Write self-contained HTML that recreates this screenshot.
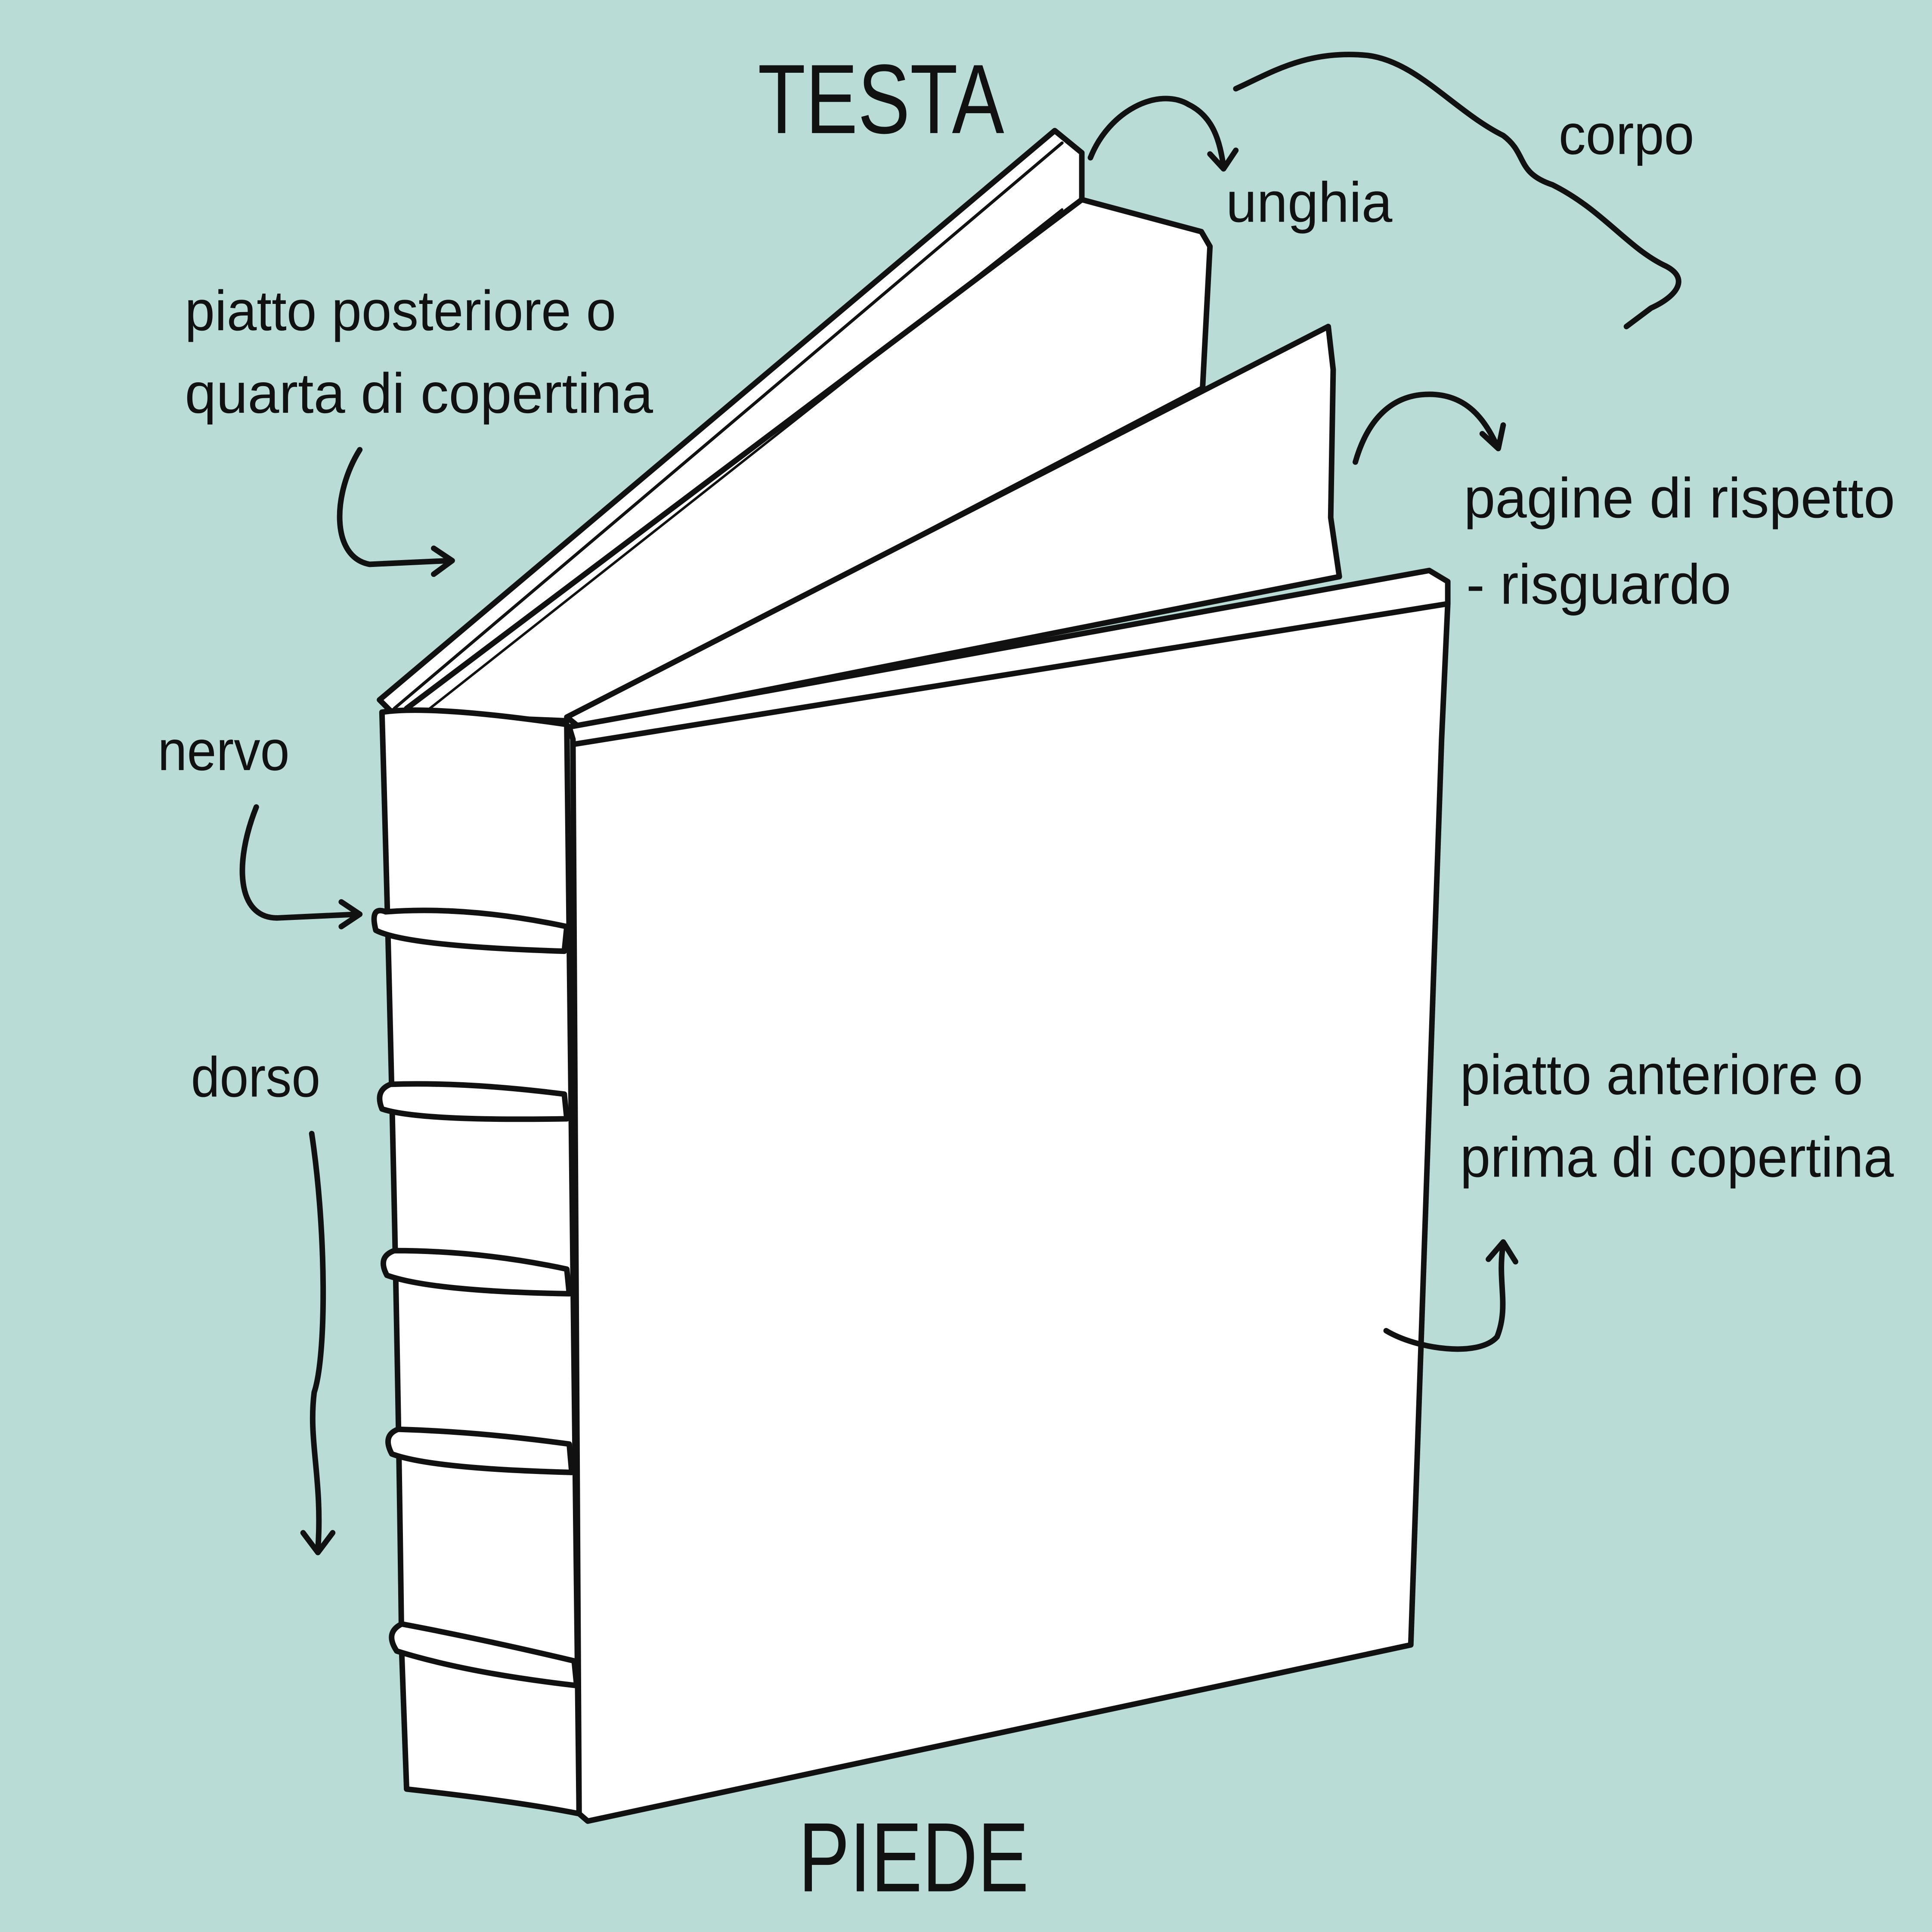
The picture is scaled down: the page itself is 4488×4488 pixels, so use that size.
<!DOCTYPE html>
<html><head><meta charset="utf-8"><style>
html,body{margin:0;padding:0;background:#b9ddd6;}
svg{display:block;width:4488px;height:4488px;}
text{font-family:"Liberation Sans",sans-serif;fill:#111;}
</style></head><body>
<svg viewBox="0 0 1568 1568" xmlns="http://www.w3.org/2000/svg">
<rect width="1568" height="1568" fill="#b9ddd6"/>
<defs>
<marker id="ah" viewBox="0 0 20 20" refX="10" refY="10" markerWidth="7" markerHeight="7" orient="auto" markerUnits="userSpaceOnUse">
</marker>
</defs>
<g fill="#fff" stroke="#111" stroke-width="4.5" stroke-linejoin="round" stroke-linecap="round">
<!-- back cover -->
<path d="M308,568 L856,106 L878,124 L878,162 L330,590 Z"/>
<path d="M320,575 L862,116" fill="none" stroke-width="2.5"/>
<path d="M330,578 L866,175" fill="none" stroke-width="2"/>
<!-- text block -->
<path d="M330,575 L878,162 L975,188 L982,200 L976,315 L460,585 L340,580 Z"/>
<path d="M345,578 L862,170" fill="none" stroke-width="2"/>
<!-- endpaper -->
<path d="M460,582 L1078,265 L1082,300 L1080,420 L1087,468 L470,590 Z"/>
<!-- spine -->
<path d="M310,578 Q350,572 460,588 L470,1472 Q420,1462 330,1452 L326,1340 Q322,1000 310,578 Z"/>
<!-- front cover -->
<path d="M462,590 L1160,463 L1175,472 L1175,490 L1170,600 L1145,1335 L477,1478 L470,1472 L465,600 Z"/>
<path d="M466,604 L1175,490" fill="none"/>
<!-- bands -->
<path d="M313,740 Q300,735 305,755 Q330,768 458,772 L460,752 Q380,735 313,740 Z"/>
<path d="M317,880 Q304,885 310,900 Q340,910 460,908 L458,888 Q380,878 317,880 Z"/>
<path d="M320,1015 Q306,1020 314,1035 Q350,1048 462,1050 L460,1030 Q390,1015 320,1015 Z"/>
<path d="M323,1160 Q310,1165 318,1180 Q350,1192 464,1195 L462,1172 Q390,1162 323,1160 Z"/>
<path d="M326,1318 Q312,1325 322,1340 Q380,1358 468,1368 L466,1348 Q390,1330 326,1318 Z"/>
</g>
<g fill="none" stroke="#111" stroke-width="4.5" stroke-linecap="round" stroke-linejoin="round">
<path d="M885,128 C900,90 940,70 965,85 C985,95 990,115 993,135"/><path d="M982,125 L993,137 L1003,122"/>
<path d="M1003,72 C1030,60 1060,40 1110,45 C1150,50 1180,90 1220,110 C1240,125 1230,140 1260,150 C1300,170 1320,200 1350,215 C1372,225 1362,240 1340,250 L1320,265"/>
<path d="M1100,375 C1110,340 1130,320 1160,320 C1190,320 1205,340 1215,362"/><path d="M1203,352 L1216,364 L1220,345"/>
<path d="M292,365 C270,400 268,452 300,458 L365,455"/><path d="M352,445 L367,455 L352,466"/>
<path d="M208,655 C190,700 192,745 225,745 L290,742"/><path d="M277,732 L292,742 L277,752"/>
<path d="M253,920 C265,1000 265,1100 255,1130 C250,1170 262,1200 258,1258"/><path d="M246,1244 L258,1260 L270,1244"/>
<path d="M1125,1080 C1150,1095 1200,1102 1215,1085 C1225,1060 1215,1040 1220,1010"/><path d="M1208,1022 L1220,1008 L1230,1024"/>
</g>
<g font-size="46">
<text x="615" y="108" font-size="80" textLength="200" lengthAdjust="spacingAndGlyphs">TESTA</text>
<text x="995" y="180" textLength="135" lengthAdjust="spacingAndGlyphs">unghia</text>
<text x="1265" y="125" textLength="110" lengthAdjust="spacingAndGlyphs">corpo</text>
<text x="150" y="268" textLength="350" lengthAdjust="spacingAndGlyphs">piatto posteriore o</text>
<text x="150" y="335" textLength="380" lengthAdjust="spacingAndGlyphs">quarta di copertina</text>
<text x="128" y="625" textLength="107" lengthAdjust="spacingAndGlyphs">nervo</text>
<text x="155" y="890" textLength="105" lengthAdjust="spacingAndGlyphs">dorso</text>
<text x="1188" y="420" textLength="350" lengthAdjust="spacingAndGlyphs">pagine di rispetto</text>
<text x="1190" y="490" textLength="215" lengthAdjust="spacingAndGlyphs">- risguardo</text>
<text x="1185" y="888" textLength="327" lengthAdjust="spacingAndGlyphs">piatto anteriore o</text>
<text x="1185" y="955" textLength="352" lengthAdjust="spacingAndGlyphs">prima di copertina</text>
<text x="648" y="1535" font-size="80" textLength="187" lengthAdjust="spacingAndGlyphs">PIEDE</text>
</g>
</svg>
</body></html>
